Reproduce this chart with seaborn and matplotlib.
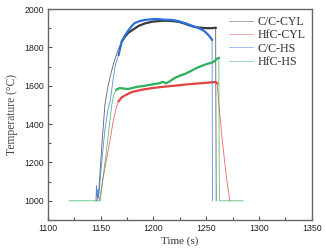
import numpy as np
import pandas as pd
import seaborn as sns
import matplotlib.pyplot as plt
from matplotlib.lines import Line2D
from matplotlib.ticker import MultipleLocator

# C/C-CYL
cc_cyl_t = [1146, 1148, 1151, 1154, 1157, 1160, 1163, 1167, 1170, 1173, 1176, 1180,
            1186, 1192, 1199, 1205, 1211, 1218, 1224, 1229, 1233, 1238, 1243, 1250,
            1255, 1259, 1259.5]
cc_cyl_T = [1000, 1030, 1280, 1500, 1600, 1670, 1730, 1795, 1830, 1855, 1875, 1890,
            1912, 1925, 1934, 1937, 1939, 1937, 1933, 1925, 1917, 1908, 1903, 1900,
            1900, 1902, 1000]

# HfC-CYL
hfc_cyl_t = [1148.8, 1152, 1155, 1159, 1162, 1165, 1167, 1170, 1175, 1180, 1190, 1199,
             1210, 1220, 1230, 1240, 1250, 1259, 1260.5, 1261.5, 1263, 1265, 1267,
             1269.5, 1272.4]
hfc_cyl_T = [1000, 1110, 1200, 1320, 1420, 1490, 1519, 1540, 1555, 1568, 1580, 1588,
             1595, 1600, 1606, 1611, 1615, 1620, 1612, 1540, 1450, 1330, 1230,
             1110, 1000]

# C/C-HS
cc_hs_t = [1145.5, 1146, 1146.5, 1147, 1147.5, 1148.5, 1151, 1154, 1157, 1159, 1162,
           1164, 1167, 1170, 1173, 1176, 1179, 1182, 1187, 1192, 1197, 1201, 1207,
           1212, 1218, 1224, 1230, 1236, 1243, 1248, 1252, 1254, 1255.6, 1256]
cc_hs_T = [1000, 1080, 1020, 1060, 1010, 1050, 1200, 1370, 1480, 1520, 1640,
           1710, 1761, 1830, 1862, 1886, 1908, 1926, 1937, 1943, 1946, 1948, 1946,
           1944, 1943, 1936, 1926, 1914, 1900, 1886, 1865, 1852, 1839, 1000]

# HfC-HS
hfc_hs_t = [1120, 1149.5, 1152, 1155, 1158, 1160.5, 1162.5, 1165, 1168, 1172, 1176,
            1180, 1185, 1190, 1195, 1200, 1205, 1209, 1212, 1216, 1220, 1225, 1230,
            1235, 1240, 1245, 1250, 1255, 1258, 1260, 1262, 1262.5, 1285]
hfc_hs_T = [1000, 1000, 1110, 1240, 1380, 1500, 1555, 1580, 1588, 1585, 1583,
            1588, 1595, 1598, 1603, 1608, 1612, 1620, 1612, 1625, 1640, 1652, 1662,
            1675, 1690, 1702, 1712, 1720, 1728, 1740, 1745, 1000, 1000]

labels = ["C/C-CYL", "HfC-CYL", "C/C-HS", "HfC-HS"]
colors = ["#3a3a3a", "#e5433f", "#2f6fd8", "#2fae5c"]
series = [(cc_cyl_t, cc_cyl_T), (hfc_cyl_t, hfc_cyl_T), (cc_hs_t, cc_hs_T), (hfc_hs_t, hfc_hs_T)]
# time range where the recorded signal is noisy (drawn as a wider band)
noisy = [(1170, 1259), (1167, 1260.5), (1165, 1255.6), (1163, 1262)]

fig = plt.figure(figsize=(3.26, 2.5), dpi=100)
ax = fig.add_axes([0.147, 0.12, 0.809, 0.844])

for (t, T), c, (a, b) in zip(series, colors, noisy):
    df = pd.DataFrame({"t": t, "T": T})
    sns.lineplot(data=df, x="t", y="T", estimator=None, sort=False,
                 color=c, lw=0.6, alpha=0.8, ax=ax)
    sub = df[(df["t"] >= a) & (df["t"] <= b)]
    sns.lineplot(data=sub, x="t", y="T", estimator=None, sort=False,
                 color=c, lw=1.6, ax=ax)

ax.set_xlim(1100, 1350)
ax.set_ylim(900, 2000)
ax.xaxis.set_major_locator(MultipleLocator(50))
ax.xaxis.set_minor_locator(MultipleLocator(25))
ax.yaxis.set_major_locator(MultipleLocator(200))
ax.yaxis.set_minor_locator(MultipleLocator(100))
ax.tick_params(which="both", direction="in", color="#555555", width=0.8,
               labelsize=6.3, labelcolor="#222222", pad=3)
ax.tick_params(which="major", length=3)
ax.tick_params(which="minor", length=2)
for lab in ax.get_xticklabels() + ax.get_yticklabels():
    lab.set_family("Liberation Sans")
for s in ax.spines.values():
    s.set_color("#666666")
    s.set_linewidth(1.0)

ax.set_xlabel("Time (s)", family="Liberation Serif", fontsize=8, color="#333333", labelpad=2)
ax.set_ylabel("Temperature (°C)", family="Liberation Serif", fontsize=8.3, color="#444444", labelpad=4)

handles = [Line2D([], [], color=c, lw=0.7, alpha=0.45) for c in colors]
leg = ax.legend(handles, labels, loc="upper right", frameon=False,
                prop={"family": "Liberation Serif", "size": 8.6},
                labelspacing=0.12, handlelength=2.0, handletextpad=0.35,
                borderaxespad=0.0, borderpad=0.3, bbox_to_anchor=(0.99, 0.985))
for txt in leg.get_texts():
    txt.set_color("#333333")

fig.savefig("out.png", dpi=100)
